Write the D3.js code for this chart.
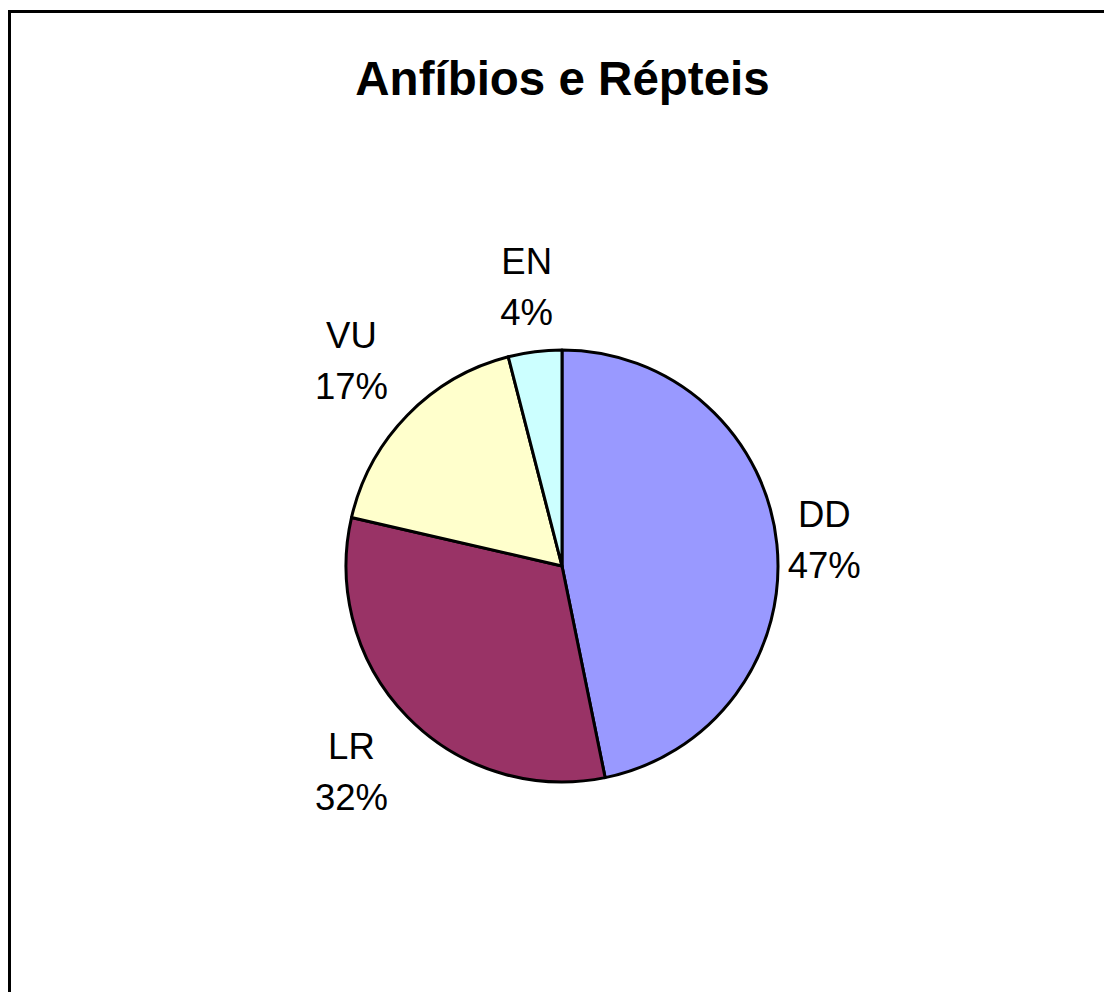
<!DOCTYPE html>
<html>
<head>
<meta charset="utf-8">
<script src="https://cdn.jsdelivr.net/npm/d3@7"></script>
<style>
  body { margin: 0; background: #fff; overflow: hidden; }
  svg text { font-family: "Liberation Sans", Arial, sans-serif; }
</style>
</head>
<body>
<div id="chart"></div>
<script>
// data
var categories = ["DD", "LR", "VU", "EN"];
var values = [46.8, 31.8, 17.4, 4.0];
var colors = ["#9999ff", "#993366", "#ffffcc", "#ccffff"];
var title = "Anfíbios e Répteis";

var width = 1104,
    height = 992,
    cx = 562,
    cy = 566,
    radius = 216,
    fontSize = 36.5,
    lineGap = 51;

// label placement: base distance + box extent along the mid angle
var labelR = 196, boxW = 60, boxH = 79;

var svg = d3.select("#chart").append("svg")
    .attr("width", width)
    .attr("height", height)
    .style("display", "block");

// chart frame (right and bottom edges fall outside the picture)
svg.append("rect")
    .attr("x", 9.5)
    .attr("y", 11.5)
    .attr("width", 1300)
    .attr("height", 1300)
    .attr("fill", "#fff")
    .attr("stroke", "#000")
    .attr("stroke-width", 3);

// title
svg.append("text")
    .attr("x", 562.5)
    .attr("y", 95)
    .attr("text-anchor", "middle")
    .style("font-size", "47.5px")
    .style("font-weight", "bold")
    .text(title);

var data = categories.map(function(c, i) {
    return {name: c, value: values[i], color: colors[i]};
});
var total = d3.sum(values);

var pie = d3.pie()
    .sort(null)
    .value(function(d) { return d.value; });

var arc = d3.arc()
    .innerRadius(0)
    .outerRadius(radius);

var g = svg.append("g")
    .attr("transform", "translate(" + cx + "," + cy + ")");

var arcs = pie(data);

g.selectAll(".slice")
    .data(arcs)
    .enter().append("path")
    .attr("class", "slice")
    .attr("d", arc)
    .attr("fill", function(d) { return d.data.color; })
    .attr("stroke", "#000")
    .attr("stroke-width", 3)
    .attr("stroke-linejoin", "round");

var labels = g.selectAll(".lbl")
    .data(arcs)
    .enter().append("g")
    .attr("class", "lbl");

labels.each(function(d) {
    var el = d3.select(this);
    var pct = Math.round(d.data.value / total * 100) + "%";
    var a = (d.startAngle + d.endAngle) / 2;
    var dx = Math.sin(a), dy = -Math.cos(a);
    var r = labelR + Math.abs(dx) * boxW + Math.abs(dy) * boxH;
    var px = dx * r, py = dy * r;
    el.append("text")
        .attr("x", px)
        .attr("y", py - 12.5)
        .attr("text-anchor", "middle")
        .style("font-size", fontSize + "px")
        .text(d.data.name);
    el.append("text")
        .attr("x", px)
        .attr("y", py - 12.5 + lineGap)
        .attr("text-anchor", "middle")
        .style("font-size", fontSize + "px")
        .text(pct);
});
</script>
</body>
</html>
